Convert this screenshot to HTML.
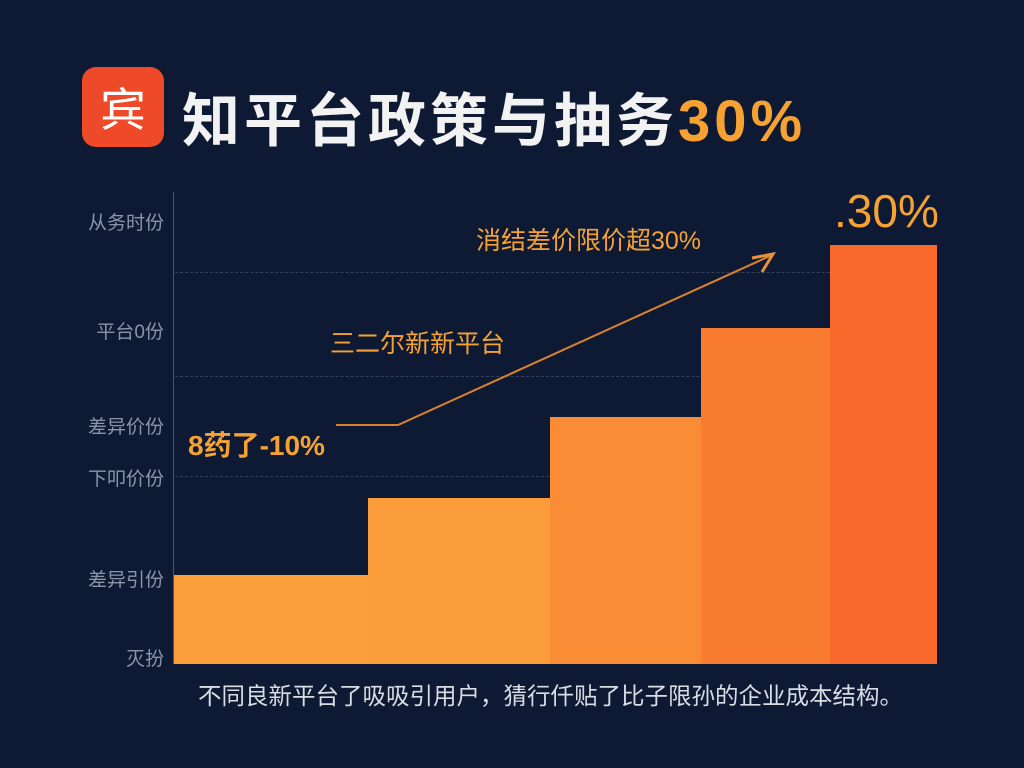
<!DOCTYPE html>
<html><head><meta charset="utf-8"><style>
html,body{margin:0;padding:0}
body{width:1024px;height:768px;background:#0e1a33;position:relative;overflow:hidden;font-family:"Liberation Sans","Noto Sans CJK SC",sans-serif}
.t{position:absolute;white-space:nowrap}
.yl{position:absolute;color:#8a95a8;font-size:19px;right:860px}
.b{position:absolute;bottom:104px}
.g{position:absolute;left:175px;width:760px;border-top:1px dashed #34405a}
</style></head><body>
<div style="position:absolute;left:82px;top:67px;width:82px;height:80px;background:#ee4a2a;border-radius:14px;color:#fff;font-size:46px;text-align:center;line-height:80px;font-family:'Noto Sans CJK SC',sans-serif">宾</div>
<div class="t" style="left:182px;top:74px;font-size:58px;font-weight:bold;color:#f2f2f2;letter-spacing:4px">知平台政策与抽务<span style="color:#f6a233">30%</span></div>
<div class="g" style="top:272px"></div>
<div class="g" style="top:376px"></div>
<div class="g" style="top:476px"></div>
<div style="position:absolute;left:173px;top:192px;width:1px;height:472px;background:#4a5570"></div>
<div class="yl" style="top:208px">从务时份</div>
<div class="yl" style="top:317px">平台0份</div>
<div class="yl" style="top:412px">差异价份</div>
<div class="yl" style="top:464px">下叩价份</div>
<div class="yl" style="top:565px">差异引份</div>
<div class="yl" style="top:644px">灭扮</div>
<div class="b" style="left:174px;width:194px;height:89px;background:#fa9f3c"></div>
<div class="b" style="left:368px;width:182px;height:166px;background:#fb9c3b"></div>
<div class="b" style="left:550px;width:151px;height:247px;background:#fb8c36"></div>
<div class="b" style="left:701px;width:129px;height:336px;background:#fa7c31"></div>
<div class="b" style="left:830px;width:107px;height:419px;background:#f8692b"></div>
<svg style="position:absolute;left:0;top:0" width="1024" height="768">
<polyline points="336,425 398,425 772,255" fill="none" stroke="#d9822f" stroke-width="2"/>
<polyline points="752,258 773,254 762,272" fill="none" stroke="#e8923a" stroke-width="3"/>
</svg>
<div class="t" style="left:188px;top:424px;font-size:28px;font-weight:bold;color:#f6a233">8药了-10%</div>
<div class="t" style="left:330px;top:324px;font-size:25px;color:#f6a233">三二尔新新平台</div>
<div class="t" style="left:476px;top:221px;font-size:25px;color:#f6a233">消结差价限价超30%</div>
<div class="t" style="left:834px;top:184px;font-size:46px;color:#f6a233">.30%</div>
<div class="t" style="left:198px;top:677px;font-size:23.5px;color:#d8dce4">不同良新平台了吸吸引用户，猜行仟贴了比子限孙的企业成本结构。</div>
</body></html>
